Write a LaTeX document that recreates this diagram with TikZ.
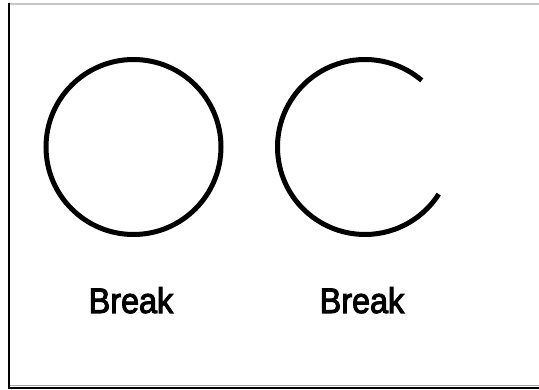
\documentclass[tikz,border=0pt]{standalone}
\usepackage{fontspec}
\setmainfont{Liberation Sans}
\newfontfamily\lblfont[FakeBold=3]{Liberation Sans}
\begin{document}
\begin{tikzpicture}[x=1pt,y=-1pt,
  ring/.style={line width=5pt, draw=black},
  lbl/.style={font=\lblfont\fontsize{35.5}{38}\selectfont, inner sep=0pt, anchor=base, xscale=0.91}]
\useasboundingbox (0,0) rectangle (539,390);
\fill[white] (0,0) rectangle (539,390);
% frame
\draw[line width=1.2pt, draw=black!22] (9,4) -- (539,4);
\draw[line width=1pt, draw=black!35] (9,385.3) -- (539,385.3);
\draw[line width=2.2pt, draw=black] (8.9,3.5) -- (8.9,388) -- (539,388);
% left circle
\coordinate (c1) at (133.5,147);
\draw[ring] (c1) circle[radius=87.5];
% right broken circle
\coordinate (c2) at (365,147);
\draw[ring] (c2) ++(-49.6:87.5) arc[start angle=-49.6, end angle=-327.4, radius=87.5];
\node[lbl] (t1) at (131,313) {Break};
\node[lbl] (t2) at (362,313) {Break};
\end{tikzpicture}
\end{document}
